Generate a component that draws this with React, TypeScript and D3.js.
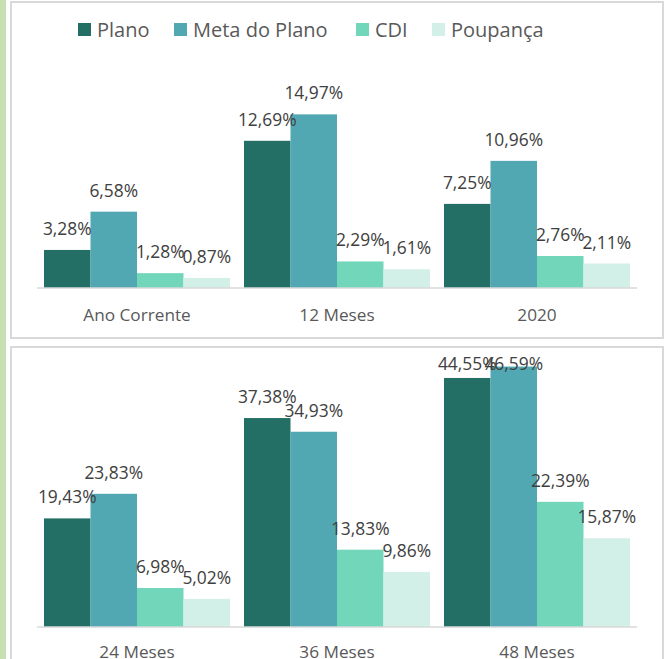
import React from "react";
import * as d3 from "d3";

const seriesNames = ["Plano", "Meta do Plano", "CDI", "Poupança"];
const seriesColors = ["#236f65", "#51a8b2", "#72d6bb", "#d2efe8"];

const categoriesTop = ["Ano Corrente", "12 Meses", "2020"];
const planoTop = [3.28, 12.69, 7.25];
const metaTop = [6.58, 14.97, 10.96];
const cdiTop = [1.28, 2.29, 2.76];
const poupTop = [0.87, 1.61, 2.11];

const categoriesBottom = ["24 Meses", "36 Meses", "48 Meses"];
const planoBottom = [19.43, 37.38, 44.55];
const metaBottom = [23.83, 34.93, 46.59];
const cdiBottom = [6.98, 13.83, 22.39];
const poupBottom = [5.02, 9.86, 15.87];

const FONT = "'Open Sans', 'Noto Sans', sans-serif";
const fmt = (v: number) => v.toFixed(2).replace(".", ",") + "%";

type PanelProps = {
  categories: string[];
  series: number[][];
  yMax: number;
  baseY: number;
  topY: number;
  labelMinY: number;
  catOffset: number;
};

function Panel({ categories, series, yMax, baseY, topY, labelMinY, catOffset }: PanelProps) {
  const x0 = d3.scaleBand<string>().domain(categories).range([37, 637]);
  const x1 = d3
    .scaleBand<string>()
    .domain(seriesNames)
    .range([7, x0.bandwidth() - 7]);
  const y = d3.scaleLinear().domain([0, yMax]).range([baseY, topY]);
  return (
    <g>
      {categories.map((c, ci) => (
        <g key={c} transform={`translate(${x0(c)},0)`}>
          {seriesNames.map((s, si) => {
            const v = series[si][ci];
            return (
              <rect
                key={s}
                x={x1(s)}
                y={y(v)}
                width={x1.bandwidth()}
                height={baseY - y(v)}
                fill={seriesColors[si]}
              />
            );
          })}
        </g>
      ))}
      <line x1={37} x2={637} y1={baseY} y2={baseY} stroke="#d9d9d9" strokeWidth={1.5} />
      {categories.map((c, ci) => (
        <g key={c + "l"} transform={`translate(${x0(c)},0)`}>
          {seriesNames.map((s, si) => {
            const v = series[si][ci];
            return (
              <text
                key={s}
                x={(x1(s) as number) + x1.bandwidth() / 2}
                y={Math.max(y(v) - 15, labelMinY)}
                textAnchor="middle"
                fontFamily={FONT}
                fontSize={17.4}
                fill="#404040"
              >
                {fmt(v)}
              </text>
            );
          })}
          <text
            x={x0.bandwidth() / 2}
            y={baseY + catOffset}
            textAnchor="middle"
            fontFamily={FONT}
            fontSize={17.2}
            fill="#595959"
          >
            {c}
          </text>
        </g>
      ))}
    </g>
  );
}

const legendX = [78, 174, 356, 432];

export default function App() {
  return (
    <svg
      width={664}
      height={659}
      style={{ position: "absolute", left: 0, top: 0, background: "#fff" }}
    >
      <rect x={0} y={0} width={664} height={659} fill="#fff" />
      <rect x={0} y={0} width={6} height={659} fill="#c6e0b4" />
      <rect x={11} y={2} width={652} height={336} fill="#fff" stroke="#d9d9d9" strokeWidth={2} />
      <rect x={11} y={347} width={652} height={320} fill="#fff" stroke="#d9d9d9" strokeWidth={2} />
      {seriesNames.map((s, i) => (
        <g key={s}>
          <rect x={legendX[i]} y={23} width={13} height={13} fill={seriesColors[i]} />
          <text
            x={legendX[i] + 19}
            y={36.5}
            fontFamily={FONT}
            fontSize={20}
            fill="#595959"
          >
            {s}
          </text>
        </g>
      ))}
      <Panel
        categories={categoriesTop}
        series={[planoTop, metaTop, cdiTop, poupTop]}
        yMax={16}
        baseY={288}
        topY={288 - 16 * 11.6}
        labelMinY={0}
        catOffset={32.5}
      />
      <Panel
        categories={categoriesBottom}
        series={[planoBottom, metaBottom, cdiBottom, poupBottom]}
        yMax={50}
        baseY={627}
        topY={627 - 50 * 5.59}
        labelMinY={370}
        catOffset={30.5}
      />
    </svg>
  );
}
